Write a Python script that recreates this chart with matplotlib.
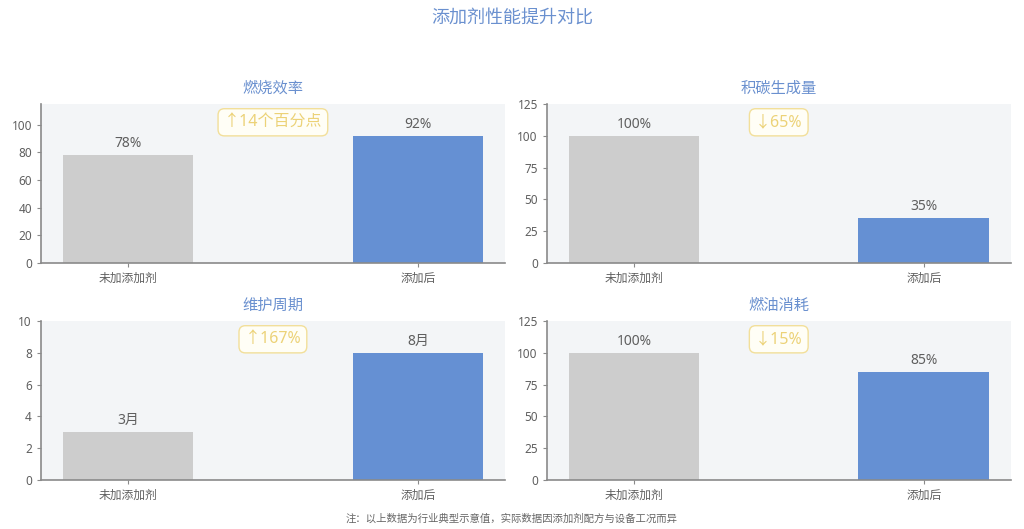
import matplotlib
matplotlib.use("Agg")
import matplotlib.pyplot as plt

plt.rcParams['font.family'] = ['Noto Sans', 'Noto Sans CJK SC', 'DejaVu Sans']

categories = ["未加添加剂", "添加后"]
titles = ["燃烧效率", "积碳生成量", "维护周期", "燃油消耗"]
values = [[78, 92], [100, 35], [3, 8], [100, 85]]
value_labels = [["78%", "92%"], ["100%", "35%"], ["3月", "8月"], ["100%", "85%"]]
badges = ["↑14个百分点", "↓65%", "↑167%", "↓15%"]
yticks = [[0, 20, 40, 60, 80, 100], [0, 25, 50, 75, 100, 125],
          [0, 2, 4, 6, 8, 10], [0, 25, 50, 75, 100, 125]]
ylims = [115, 125, 10, 125]

bar_colors = ["#cdcdcd", "#6590d3"]
title_color = "#6a90cf"
text_color = "#5f5f5f"

fig = plt.figure(figsize=(10.24, 5.29), dpi=100)
positions = [
    [0.040, 0.5028, 0.453, 0.3006],
    [0.534, 0.5028, 0.453, 0.3006],
    [0.040, 0.0926, 0.453, 0.3006],
    [0.534, 0.0926, 0.453, 0.3006],
]

for i in range(4):
    ax = fig.add_axes(positions[i])
    ax.set_facecolor("#f3f5f7")
    x = list(range(len(categories)))
    bars = ax.bar(x, values[i], width=0.45, color=bar_colors, zorder=2)
    ax.set_xlim(-0.3, 1.3)
    ax.set_ylim(0, ylims[i])
    ax.set_yticks(yticks[i])
    ax.set_xticks(x)
    ax.set_xticklabels(categories)
    for b, lab in zip(bars, value_labels[i]):
        ax.annotate(lab, (b.get_x() + b.get_width() / 2, b.get_height()),
                    xytext=(0, 3), textcoords="offset points",
                    ha="center", va="bottom", fontsize=10, color=text_color)
    ax.set_title(titles[i], color=title_color, fontsize=11, pad=8)
    ax.text(0.5, 0.885, badges[i], transform=ax.transAxes, ha="center", va="center",
            fontsize=11.5, color="#ecd277",
            bbox=dict(boxstyle="round,pad=0.35,rounding_size=0.4", facecolor="#fffef6",
                      edgecolor="#f2df9a", linewidth=1))
    for s in ["top", "right"]:
        ax.spines[s].set_visible(False)
    for s in ["left", "bottom"]:
        ax.spines[s].set_color("#8a8a8a")
        ax.spines[s].set_linewidth(1.2)
    ax.tick_params(colors="#8a8a8a", labelcolor=text_color, labelsize=8.5, length=3)

fig.text(0.5, 0.964, "添加剂性能提升对比", ha="center", va="center",
         fontsize=13, color=title_color)
fig.text(0.5, 0.019, "注：以上数据为行业典型示意值，实际数据因添加剂配方与设备工况而异",
         ha="center", va="center", fontsize=7.5, color="#666666")

fig.savefig("out.png", dpi=100)
